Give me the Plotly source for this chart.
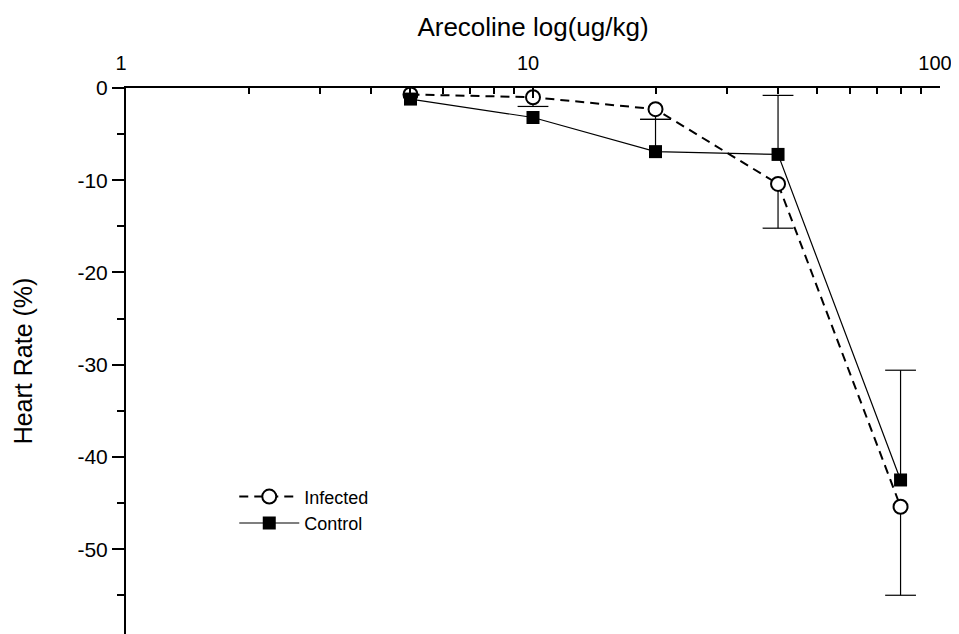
import plotly.graph_objects as go

# Data
doses = [5, 10, 20, 40, 80]
infected = [-0.7, -1.0, -2.3, -10.4, -45.4]
infected_err_minus = [0.0, 1.0, 1.1, 4.8, 9.6]
control = [-1.2, -3.2, -6.9, -7.2, -42.5]
control_err_plus = [0.0, 0.0, 3.5, 6.4, 11.9]

x_tickvals = [1, 10, 100]
x_ticktext = ["1", "10", "100"]
x_minor = [k * 10 ** e for e in (0, 1) for k in range(2, 10)]
y_tickvals = [0, -10, -20, -30, -40, -50]
y_ticktext = ["0", "-10", "-20", "-30", "-40", "-50"]
y_minor = [-5, -15, -25, -35, -45, -55]

FONT = "Liberation Sans, Arial, sans-serif"

zeros = [0.0] * len(doses)
# ends of the one-sided error bars (caps drawn there only)
inf_cap_y = [v - e if e > 0 else None for v, e in zip(infected, infected_err_minus)]
ctl_cap_y = [v + e if e > 0 else None for v, e in zip(control, control_err_plus)]

fig = go.Figure()

# error-bar caps
fig.add_trace(go.Scatter(
    x=doses, y=inf_cap_y, mode="markers", showlegend=False, hoverinfo="skip",
    marker=dict(symbol="line-ew", size=22, line=dict(color="black", width=1.2)),
))
fig.add_trace(go.Scatter(
    x=doses, y=ctl_cap_y, mode="markers", showlegend=False, hoverinfo="skip",
    marker=dict(symbol="line-ew", size=22, line=dict(color="black", width=1.2)),
))

fig.add_trace(go.Scatter(
    x=doses, y=infected, name="Infected", mode="lines+markers",
    line=dict(color="black", width=2, dash="9px,6px"),
    marker=dict(symbol="circle", size=14, color="white",
                line=dict(color="black", width=2)),
    error_y=dict(type="data", symmetric=False, array=zeros,
                 arrayminus=infected_err_minus, color="black",
                 thickness=1.2, width=0),
))
fig.add_trace(go.Scatter(
    x=doses, y=control, name="Control", mode="lines+markers",
    line=dict(color="black", width=1.2),
    marker=dict(symbol="square", size=13, color="black",
                line=dict(color="black", width=0)),
    error_y=dict(type="data", symmetric=False, array=control_err_plus,
                 arrayminus=zeros, color="black",
                 thickness=1.2, width=0),
))

fig.update_layout(
    width=951, height=626,
    margin=dict(l=118, r=19, t=80, b=0),
    paper_bgcolor="white", plot_bgcolor="white",
    font=dict(family=FONT, color="black", size=18),
    showlegend=True,
    legend=dict(x=0.133, y=0.285, xanchor="left", yanchor="top",
                bgcolor="rgba(0,0,0,0)", font=dict(size=18),
                itemwidth=60, tracegroupgap=0),
    xaxis=dict(
        type="log", range=[0, 2], side="top",
        showline=True, linecolor="black", linewidth=2,
        showgrid=False, zeroline=False,
        ticks="inside", ticklen=10, tickwidth=2, tickcolor="black",
        tickvals=x_tickvals, ticktext=x_ticktext,
        tickfont=dict(size=20), ticklabelstandoff=8, ticklabelshift=-5,
        minor=dict(ticks="inside", ticklen=6, tickwidth=2,
                   tickcolor="black", tickvals=x_minor, showgrid=False),
        title=dict(text="Arecoline log(ug/kg)", font=dict(size=26),
                   standoff=8),
    ),
    yaxis=dict(
        range=[-59.2, 0],
        showline=True, linecolor="black", linewidth=2,
        showgrid=False, zeroline=False,
        ticks="outside", ticklen=12, tickwidth=2, tickcolor="black",
        tickvals=y_tickvals, ticktext=y_ticktext,
        tickfont=dict(size=21),
        minor=dict(ticks="outside", ticklen=7, tickwidth=2,
                   tickcolor="black", tickvals=y_minor, showgrid=False),
        title=dict(text="Heart Rate (%)", font=dict(size=25), standoff=38),
    ),
)

fig.write_html("out.html")
